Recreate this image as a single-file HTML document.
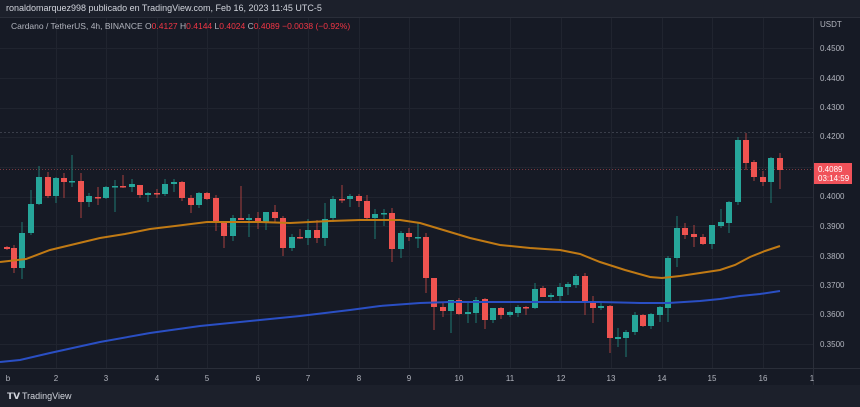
<!DOCTYPE html><html><head><meta charset="utf-8"><style>
body{margin:0;width:860px;height:407px;overflow:hidden;background:#161a25;font-family:"Liberation Sans",sans-serif}
svg{display:block}
</style></head><body>
<svg id="s" width="860" height="407" xmlns="http://www.w3.org/2000/svg" font-family="Liberation Sans, sans-serif">
<rect width="860" height="407" fill="#161a25"/>
<rect width="860" height="17" fill="#1c202b"/>
<text x="6" y="11" fill="#d1d4dc" font-size="9">ronaldomarquez998 publicado en TradingView.com, Feb 16, 2023 11:45 UTC-5</text>
<g stroke="#20242f" stroke-width="1" id="grid"></g>
<line x1="0" y1="17.5" x2="860" y2="17.5" stroke="#2a2e39"/>
<line x1="813.5" y1="17" x2="813.5" y2="385" stroke="#2a2e39"/>
<line x1="0" y1="368.5" x2="860" y2="368.5" stroke="#2a2e39"/>
<rect x="0" y="385" width="860" height="22" fill="#1c202b"/>
<text x="11" y="29" fill="#b2b5be" font-size="8.5">Cardano / TetherUS, 4h, BINANCE  <tspan fill="#b2b5be">O</tspan><tspan fill="#f23645">0.4127</tspan>  H<tspan fill="#f23645">0.4144</tspan>  L<tspan fill="#f23645">0.4024</tspan>  C<tspan fill="#f23645">0.4089</tspan>  <tspan fill="#f23645">−0.0038 (−0.92%)</tspan></text>
<text x="820" y="27" fill="#b2b5be" font-size="8">USDT</text>
<g fill="#b2b5be" font-size="8">
<text x="820" y="51">0.4500</text><text x="820" y="81">0.4400</text><text x="820" y="110">0.4300</text><text x="820" y="139">0.4200</text><text x="820" y="199">0.4000</text><text x="820" y="229">0.3900</text><text x="820" y="259">0.3800</text><text x="820" y="288">0.3700</text><text x="820" y="317">0.3600</text><text x="820" y="347">0.3500</text>
</g>
<g fill="#b2b5be" font-size="8" text-anchor="middle">
<text x="8" y="381">b</text><text x="56" y="381">2</text><text x="106" y="381">3</text><text x="157" y="381">4</text><text x="207" y="381">5</text><text x="258" y="381">6</text><text x="308" y="381">7</text><text x="359" y="381">8</text><text x="409" y="381">9</text><text x="459" y="381">10</text><text x="510" y="381">11</text><text x="561" y="381">12</text><text x="611" y="381">13</text><text x="662" y="381">14</text><text x="712" y="381">15</text><text x="763" y="381">16</text><text x="812" y="381">1</text>
</g>
<line x1="0" y1="132.5" x2="813" y2="132.5" stroke="#3a3e4a" stroke-dasharray="2,2"/>
<line x1="0" y1="169.5" x2="813" y2="169.5" stroke="#7a3a40" stroke-dasharray="1,2"/>
<g id="c"></g>
<polyline fill="none" stroke="#c17a14" stroke-width="2" points="0,262 26,259 50,250 75,244 100,238 125,234 150,229 175,226 207,222 230,222 260,222 290,223 330,221 360,220 400,220 420,223 440,229 470,238 500,245 530,248 560,250 580,254 600,262 625,270 650,277 662,278 680,276 700,273 720,270 735,265 750,257 765,251 780,246"/>
<polyline fill="none" stroke="#2a4fc4" stroke-width="2" points="0,362 20,360 50,353 100,342 150,333 200,326 260,320 300,316 350,310 380,306 420,303 450,302 500,302 560,302 600,302 640,303 668,303 700,301 720,299 740,296 760,294 780,291"/>
<rect x="814" y="163" width="38" height="21" fill="#f0525a"/>
<text x="818" y="172" fill="#fff" font-size="8">0.4089</text>
<text x="818" y="181" fill="#fff" font-size="8">03:14:59</text>
<text x="7" y="399" fill="#d1d4dc" font-size="9" font-weight="bold">𝗧𝗩</text>
<text x="22" y="399" fill="#d1d4dc" font-size="9">TradingView</text>
</svg>
<script>
var g=document.getElementById('grid'),ns='http://www.w3.org/2000/svg';
[48,78,108,137,167,197,226,256,285,314,344].forEach(function(y){var l=document.createElementNS(ns,'line');l.setAttribute('x1',0);l.setAttribute('x2',813);l.setAttribute('y1',y+.5);l.setAttribute('y2',y+.5);g.appendChild(l)});
[56,106,157,207,258,308,359,409,459,510,561,611,662,712,763].forEach(function(x){var l=document.createElementNS(ns,'line');l.setAttribute('y1',17);l.setAttribute('y2',368);l.setAttribute('x1',x+.5);l.setAttribute('x2',x+.5);g.appendChild(l)});
var d=[[7,247,249,246,250,'r'],[14,248,268,245,273,'r'],[22,233,268,222,279,'g'],[31,204,233,190,235,'g'],[39,177,204,166,205,'g'],[48,177,196,172,198,'r'],[56,178,196,177,203,'g'],[64,178,182,173,198,'r'],[72,181,182,155,187,'g'],[81,181,202,173,218,'r'],[89,196,202,193,207,'g'],[98,197,198,187,205,'r'],[106,187,198,186,199,'g'],[115,186,187,180,212,'g'],[123,186,187,175,188,'r'],[132,184,187,179,192,'g'],[140,185,195,185,198,'r'],[148,193,195,192,202,'g'],[157,193,194,189,198,'r'],[165,184,194,179,196,'g'],[174,182,184,179,192,'g'],[182,182,198,181,201,'r'],[191,198,205,195,213,'r'],[199,193,205,192,208,'g'],[207,193,199,192,200,'r'],[216,198,223,195,231,'r'],[224,223,236,223,248,'r'],[233,218,236,215,241,'g'],[241,218,220,186,220,'r'],[249,218,220,214,237,'g'],[258,218,221,212,229,'r'],[266,212,222,212,230,'g'],[275,212,218,205,223,'r'],[283,218,248,216,256,'r'],[292,237,248,234,251,'g'],[300,237,238,229,239,'r'],[308,230,238,219,245,'g'],[317,230,238,220,243,'r'],[325,219,238,203,246,'g'],[333,199,218,196,222,'g'],[342,199,200,185,203,'r'],[350,196,199,194,207,'g'],[359,196,201,194,207,'r'],[367,201,218,195,219,'r'],[375,214,218,209,239,'g'],[384,213,214,209,226,'g'],[392,213,249,208,262,'r'],[401,233,249,231,258,'g'],[409,233,237,228,241,'r'],[418,237,238,223,248,'g'],[426,237,278,233,293,'r'],[434,278,307,278,330,'r'],[443,307,311,303,317,'r'],[451,300,311,300,333,'g'],[459,300,314,298,315,'r'],[468,312,314,302,323,'g'],[476,300,313,297,323,'g'],[485,299,320,298,329,'r'],[493,308,320,308,323,'g'],[501,308,315,307,319,'r'],[510,312,315,311,317,'g'],[518,307,313,305,317,'g'],[526,307,308,306,315,'r'],[535,289,308,283,309,'g'],[543,288,297,286,297,'r'],[551,295,297,293,300,'g'],[560,287,296,283,302,'g'],[568,284,287,282,295,'g'],[576,276,285,274,288,'g'],[585,276,302,273,315,'r'],[593,302,308,296,323,'r'],[601,306,308,301,310,'g'],[610,306,338,305,353,'r'],[618,337,339,328,347,'g'],[626,332,338,330,357,'g'],[635,315,332,312,335,'g'],[643,315,326,314,327,'r'],[651,314,326,313,329,'g'],[660,307,315,306,322,'g'],[668,258,308,256,322,'g'],[677,228,258,216,267,'g'],[685,228,235,223,239,'r'],[694,234,237,225,247,'r'],[703,237,244,234,245,'r'],[712,225,244,225,249,'g'],[721,222,226,209,228,'g'],[729,202,223,201,233,'g'],[738,140,202,137,205,'g'],[746,140,163,133,170,'r'],[754,162,177,160,181,'r'],[763,177,182,171,186,'r'],[771,158,182,157,203,'g'],[780,158,170,153,189,'r']];
var c=document.getElementById('c');
d.forEach(function(k){var col=k[5]=='g'?'#26a69a':'#ef5350',wc=k[5]=='g'?'#1f7a72':'#a8403f';
var l=document.createElementNS(ns,'line');l.setAttribute('x1',k[0]);l.setAttribute('x2',k[0]);l.setAttribute('y1',k[3]);l.setAttribute('y2',k[4]);l.setAttribute('stroke',wc);c.appendChild(l);
var r=document.createElementNS(ns,'rect');r.setAttribute('x',k[0]-3);r.setAttribute('width',6);r.setAttribute('y',k[1]);r.setAttribute('height',Math.max(1.5,k[2]-k[1]));r.setAttribute('fill',col);c.appendChild(r);});
</script>
</body></html>
